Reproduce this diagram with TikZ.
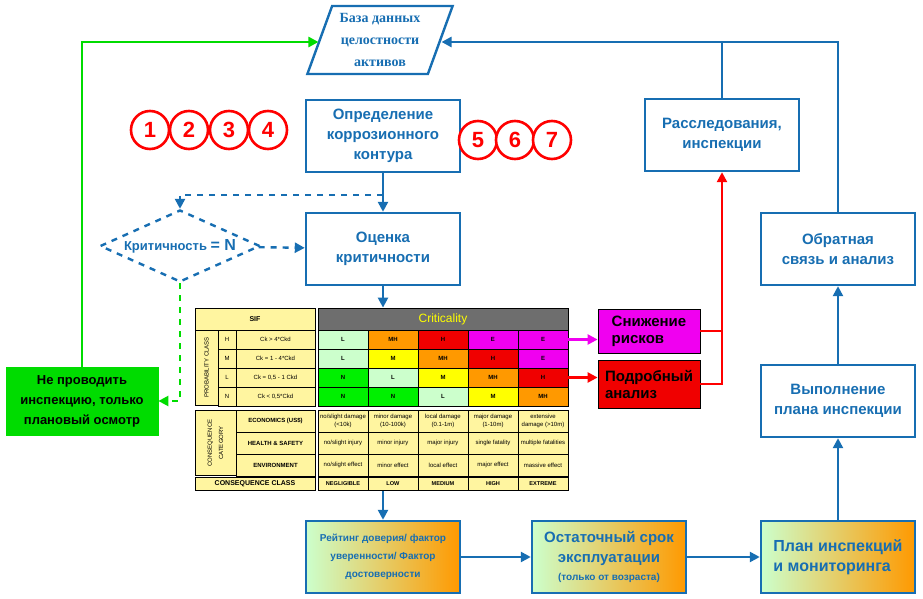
\documentclass[tikz,border=0pt]{standalone}
\usepackage{fontspec}
\setmainfont{Liberation Sans}
\newfontfamily\serifru{Liberation Serif}
\usetikzlibrary{arrows.meta, positioning, shapes.geometric}
\definecolor{flowblue}{RGB}{23,110,178}
\definecolor{palegreen}{RGB}{204,255,204}
\definecolor{mxorange}{RGB}{255,153,0}
\definecolor{mxyellow}{RGB}{255,255,0}
\definecolor{mxgreen}{RGB}{0,240,0}
\definecolor{mxmag}{RGB}{240,0,240}
\definecolor{mxred}{RGB}{240,0,0}
\definecolor{paleyel}{RGB}{255,245,160}
\definecolor{headgray}{RGB}{110,110,110}
\definecolor{okgreen}{RGB}{0,220,0}

\begin{document}
\begin{tikzpicture}[x=0.5pt, y=-0.5pt, >={Triangle[length=5pt,width=5pt]}]
				\tikzstyle{box} = [draw=flowblue, line width=1.2pt, fill=white, minimum width=77pt, minimum height=36pt, align=center, text=flowblue, font=\fontsize{7.5}{10}\selectfont\bfseries]
				\tikzstyle{grad} = [box, left color=palegreen, right color=mxorange]
				\tikzstyle{num} = [draw=red, line width=1.3pt, circle, fill=white, minimum size=19pt, inner sep=0pt, text=red, font=\fontsize{11}{11}\selectfont\bfseries]
				\tikzstyle{flow} = [->, draw=flowblue, line width=1.2pt]
				\tikzstyle{cell} = [draw, line width=0.4pt, minimum width=25pt, minimum height=9.5pt, inner sep=0pt, font=\fontsize{3}{3.5}\selectfont\bfseries]
				\tikzstyle{ycell} = [draw, line width=0.4pt, fill=paleyel, inner sep=0pt, align=center, font=\fontsize{3}{3.6}\selectfont]
				\useasboundingbox (0,0) rectangle (923,599);

				% top row
				\node[trapezium, trapezium left angle=70, trapezium right angle=110, draw=flowblue, line width=1.2pt, fill=white, minimum width=70pt, minimum height=34pt, align=center, text=flowblue, font=\serifru\fontsize{7}{11}\selectfont\bfseries]
									at (380,40)		(db)	{База данных\\целостности\\активов};
				\node[box]			at (383,136)	(def)	{Определение\\коррозионного\\контура};
				\node[box]			at (383,249)	(crit)	{Оценка\\критичности};
				\node[box]			at (722,135)	(inv)	{Расследования,\\инспекции};
				\node[box]			at (838,249)	(fb)	{Обратная\\связь и анализ};
				\node[box]			at (838,401)	(exe)	{Выполнение\\плана инспекции};
				\node[grad, font=\fontsize{8}{10}\selectfont\bfseries, align=left]
									at (838,557)	(plan)	{План инспекций\\и мониторинга};
				\node[grad, font=\fontsize{5}{9}\selectfont\bfseries]
									at (383,557)	(rate)	{Рейтинг доверия/ фактор\\уверенности/ Фактор\\достоверности};
				\node[grad]			at (609,557)	(life)	{Остаточный срок\\эксплуатации\\[-1pt]{\fontsize{5}{7}\selectfont(только от возраста)}};

				% numbered circles
				\foreach \n/\x in {1/150, 2/189, 3/229, 4/268}
					\node[num] at (\x,130) (k\n) {\n};
				\foreach \n/\x in {5/478, 6/515, 7/552}
					\node[num] at (\x,140) (k\n) {\n};

				% decision
				\node[diamond, draw=flowblue, dashed, line width=1.2pt, aspect=2.3, minimum width=80pt, minimum height=36pt, inner sep=0pt, text=flowblue, font=\fontsize{6.5}{8}\selectfont\bfseries]
									at (180,246)	(dec)	{Критичность {\fontsize{8}{8}\selectfont = N}};
				\node[draw=okgreen, fill=okgreen, minimum width=76pt, minimum height=34pt, align=center, font=\fontsize{6.5}{10}\selectfont\bfseries]
									at (82,401)		(skip)	{Не проводить\\инспекцию, только\\плановый осмотр};

				% risk matrix
				\node[ycell, minimum width=60pt, minimum height=11pt, font=\fontsize{3.5}{4}\selectfont\bfseries] at (255,319) (sif) {SIF};
				\node[draw, fill=headgray, minimum width=125pt, minimum height=11pt, inner sep=0pt, text=mxyellow, font=\fontsize{6}{6}\selectfont] at (443,319) (ctit) {Criticality};
				\node[ycell, minimum width=11.5pt, minimum height=37.5pt] at (206.5,367.5) (pcl) {\rotatebox{90}{PROBABILITY CLASS}};
				\foreach \r/\p/\t/\y in {1/H/{Ck > 4*Ckd}/339.5, 2/M/{Ck = 1 - 4*Ckd}/358.5, 3/L/{Ck = 0,5 - 1 Ckd}/377.5, 4/N/{Ck < 0,5*Ckd}/396.5} {
					\node[ycell, minimum width=9pt, minimum height=9.5pt] at (227,\y) (pl\r) {\p};
					\node[ycell, minimum width=39.5pt, minimum height=9.5pt] at (275.5,\y) (pt\r) {\t};
				}
				\foreach \r/\y/\row in {1/339.5/{palegreen/L,mxorange/MH,mxred/H,mxmag/E,mxmag/E},
										2/358.5/{palegreen/L,mxyellow/M,mxorange/MH,mxred/H,mxmag/E},
										3/377.5/{mxgreen/N,palegreen/L,mxyellow/M,mxorange/MH,mxred/H},
										4/396.5/{mxgreen/N,mxgreen/N,palegreen/L,mxyellow/M,mxorange/MH}}
					\foreach \c/\l [count=\i] in \row
						\node[cell, fill=\c] at (293+50*\i,\y) (m\r\i) {\l};

				\node[ycell, minimum width=20.5pt, minimum height=32.5pt] at (215.5,443) (ccat) {\rotatebox{90}{\shortstack{CONSEQUENCE\\CATEGORY}}};
				\foreach \r/\t/\y/\row in {1/{ECONOMICS (US\$)}/421/{{no/slight damage\\(<10k)},{minor damage\\(10-100k)},{local damage\\(0.1-1m)},{major damage\\(1-10m)},{extensive\\damage (>10m)}},
											2/{HEALTH \& SAFETY}/443/{no/slight injury,minor injury,major injury,single fatality,multiple fatalities},
											3/ENVIRONMENT/465/{no/slight effect,minor effect,local effect,major effect,massive effect}} {
					\node[ycell, minimum width=39.5pt, minimum height=11pt, font=\fontsize{3}{3.6}\selectfont\bfseries] at (275.5,\y) (cn\r) {\t};
					\foreach \l [count=\i] in \row
						\node[ycell, minimum width=25pt, minimum height=11pt] at (293+50*\i,\y) (e\r\i) {\l};
				}
				\node[ycell, minimum width=60pt, minimum height=6.5pt, font=\fontsize{3.5}{4}\selectfont\bfseries] at (255,484) (ccl) {CONSEQUENCE CLASS};
				\foreach \l [count=\i] in {NEGLIGIBLE,LOW,MEDIUM,HIGH,EXTREME}
					\node[ycell, minimum width=25pt, minimum height=6.5pt, font=\fontsize{2.8}{3}\selectfont\bfseries] at (293+50*\i,484) (cc\i) {\l};

				\node[draw=black, fill=mxmag, minimum width=51pt, minimum height=21pt, align=left, font=\fontsize{7.5}{8.5}\selectfont\bfseries] at (649,331) (low) {Снижение\\рисков};
				\node[draw=black, fill=mxred, minimum width=51pt, minimum height=24pt, align=left, font=\fontsize{7.5}{8.5}\selectfont\bfseries] at (649,384) (det) {Подробный\\анализ};

				% connectors
				\coordinate (top) at (838,42);
				\coordinate (split) at (383,195);
				\draw[flow] (def) -- (crit);
				\draw[flow, dashed] (split) -| (dec.north);
				\draw[flow, dashed] (dec) -- (crit);
				\draw[->, okgreen, dashed, line width=1.2pt] (dec.south) |- (skip.east);
				\draw[->, okgreen, line width=1.2pt] (skip.north) |- (db.west |- 0,42);
				\draw[flow] (crit.south) -- (ctit.north -| crit.south);
				\draw[flow] (fb.north) |- (db.east |- 0,42);
				\draw[draw=flowblue, line width=1.2pt] (inv.north) -- (inv.north |- top);
				\draw[flow] (plan) -- (exe);
				\draw[flow] (exe) -- (fb);
				\draw[flow] (cc2.south -| rate.north) -- (rate.north);
				\draw[flow] (rate) -- (life);
				\draw[flow] (life) -- (plan);
				\draw[->, mxmag, line width=1.2pt] (m15.east) -- (m15.east -| low.west);
				\draw[->, red, line width=1.2pt] (m35.east) -- (m35.east -| det.west);
				\draw[->, red, line width=1.2pt] (det.east) -| (inv.south);
				\draw[red, line width=1.2pt] (low.east) -- (low.east -| inv.south);
			\end{tikzpicture}
\end{document}
